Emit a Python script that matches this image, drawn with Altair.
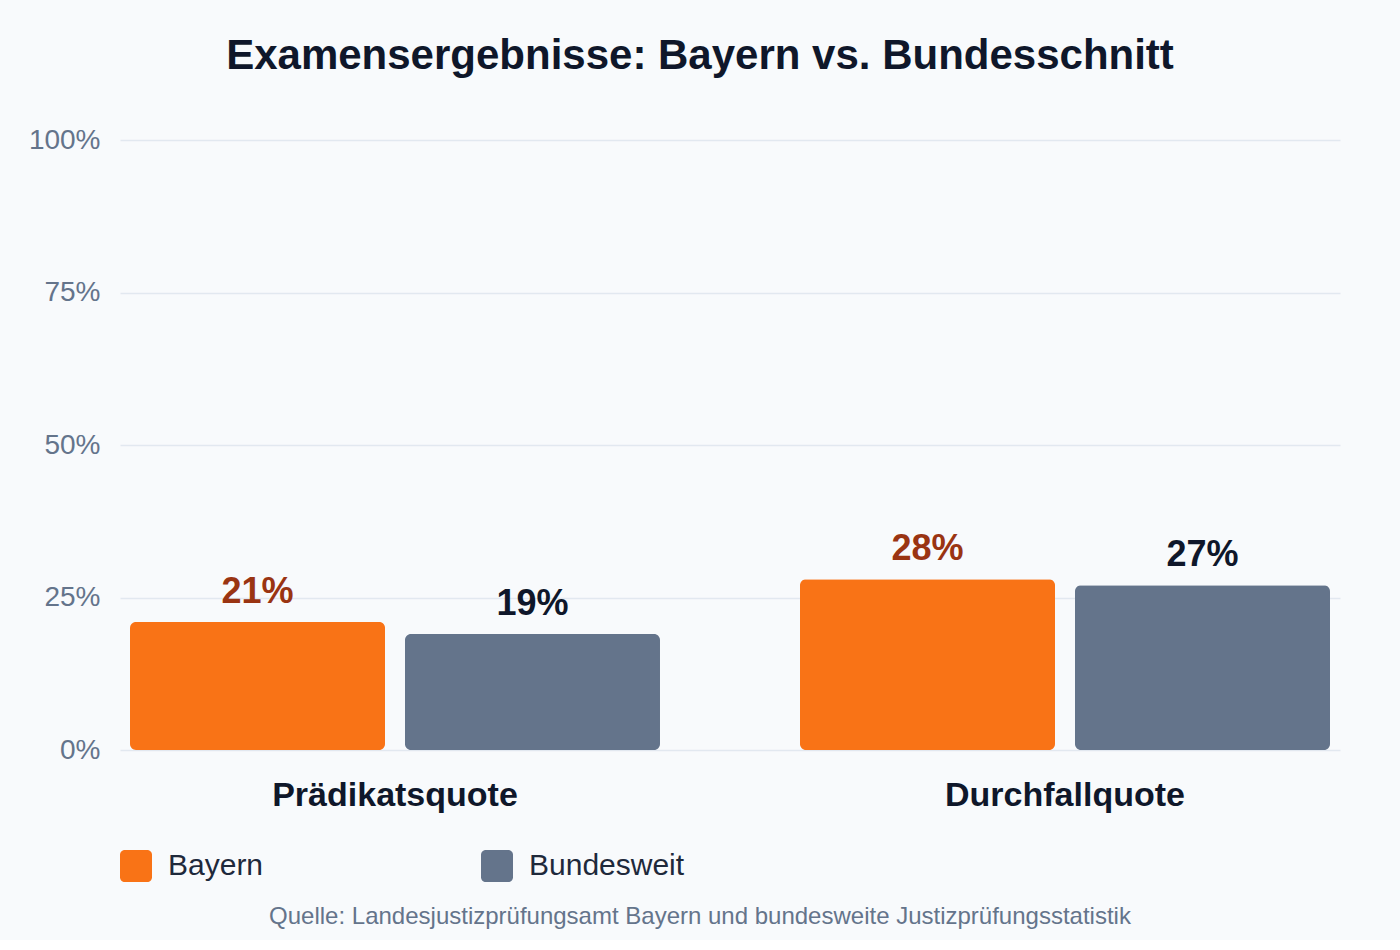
import altair as alt
import pandas as pd

categories = ["Prädikatsquote", "Durchfallquote"]
series = ["Bayern", "Bundesweit"]
bayern = [21, 28]
bundesweit = [19, 27]
y_ticks = [0, 25, 50, 75, 100]
bar_colors = ["#f97316", "#64748b"]
label_colors = ["#9a3412", "#0f172a"]
title_text = "Examensergebnisse: Bayern vs. Bundesschnitt"
source_text = "Quelle: Landesjustizprüfungsamt Bayern und bundesweite Justizprüfungsstatistik"

rows = []
for i, c in enumerate(categories):
    rows.append({"Kategorie": c, "Serie": series[0], "Wert": bayern[i]})
    rows.append({"Kategorie": c, "Serie": series[1], "Wert": bundesweit[i]})
df = pd.DataFrame(rows)

FONT = "Liberation Sans"

rounded_square = (
    "M-0.7,-1 L0.7,-1 A0.3,0.3 0 0 1 1,-0.7 L1,0.7 A0.3,0.3 0 0 1 0.7,1 "
    "L-0.7,1 A0.3,0.3 0 0 1 -1,0.7 L-1,-0.7 A0.3,0.3 0 0 1 -0.7,-1 Z"
)

x = alt.X(
    "Kategorie:N",
    sort=categories,
    scale=alt.Scale(paddingInner=0.20896, paddingOuter=0.014925),
    axis=alt.Axis(
        title=None, labelAngle=0, labelFontSize=34, labelFontWeight="bold",
        labelColor="#0f172a", labelPadding=28, domain=False, ticks=False,
        grid=False, labelFont=FONT, labelLimit=0,
    ),
)
xo = alt.XOffset("Serie:N", sort=series, scale=alt.Scale(paddingInner=0.0727, paddingOuter=0))
y = alt.Y(
    "Wert:Q",
    scale=alt.Scale(domain=[0, 100], nice=False),
    axis=alt.Axis(
        title=None, values=y_ticks, labelExpr="datum.value + '%'",
        labelFontSize=28, labelColor="#64748b", labelPadding=20,
        domain=False, ticks=False, grid=True, gridColor="#e2e8f0",
        gridWidth=1.5, labelFont=FONT,
    ),
)

bars = alt.Chart(df).mark_bar(cornerRadius=6).encode(
    x=x,
    xOffset=xo,
    y=y,
    color=alt.Color(
        "Serie:N",
        sort=series,
        scale=alt.Scale(domain=series, range=bar_colors),
        legend=alt.Legend(
            orient="none", legendX=0, legendY=710, direction="horizontal",
            columns=2, title=None, symbolType=rounded_square, symbolSize=1024,
            symbolStrokeWidth=0, labelFontSize=30, labelColor="#1e293b",
            labelOffset=16, columnPadding=217, padding=0, labelFont=FONT,
            symbolOpacity=1,
        ),
    ),
)

labels = alt.Chart(df).transform_calculate(
    label="datum.Wert + '%'"
).mark_text(
    baseline="alphabetic", dy=-19, fontSize=36, fontWeight="bold", font=FONT
).encode(
    x=x,
    xOffset=xo,
    y=y,
    text="label:N",
    color=alt.condition(
        alt.datum.Serie == series[0], alt.value(label_colors[0]), alt.value(label_colors[1])
    ),
)

source = alt.Chart(pd.DataFrame({"t": [source_text]})).mark_text(
    fontSize=24, color="#64748b", font=FONT, baseline="middle", align="center"
).encode(x=alt.value(580), y=alt.value(777), text="t:N")

chart = alt.layer(bars, labels, source).properties(
    width=1220,
    height=610,
    title=alt.TitleParams(
        text=title_text, fontSize=42, fontWeight="bold", color="#0f172a",
        font=FONT, anchor="middle", frame="group", dx=-30, offset=48,
    ),
    padding={"left": 120, "top": 140, "right": 60, "bottom": 190},
    autosize=alt.AutoSizeParams(type="none"),
    background="#f8fafc",
).configure_view(stroke=None)

chart.save("out.html", embed_options={"renderer": "svg", "actions": False})
